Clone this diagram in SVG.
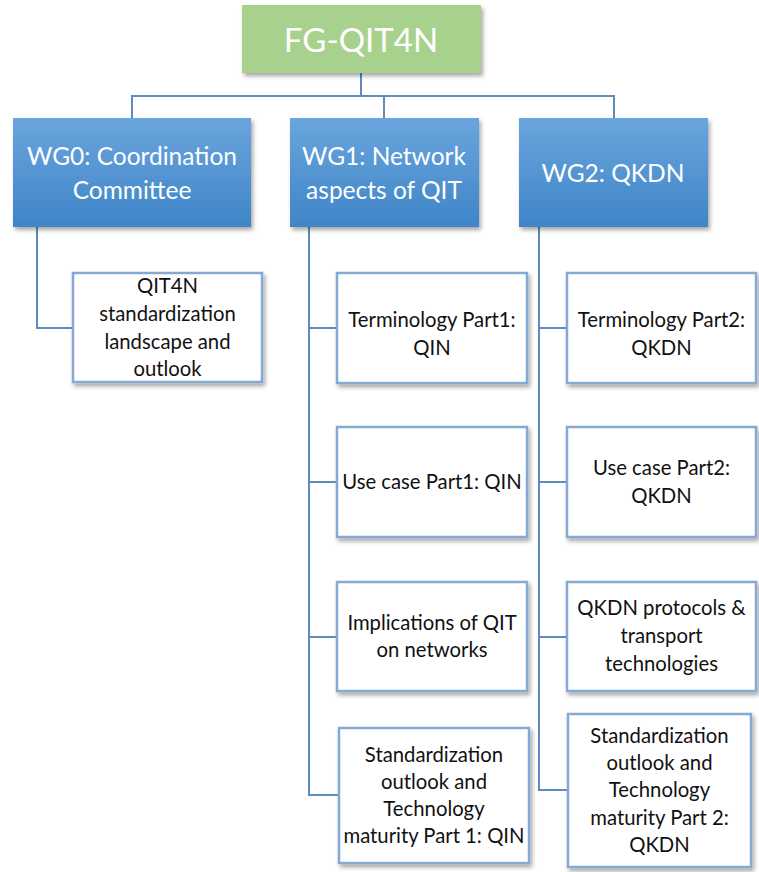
<svg xmlns="http://www.w3.org/2000/svg" width="759" height="872" viewBox="0 0 759 872">
<defs>
<linearGradient id="blue" x1="0" y1="0" x2="0" y2="1">
<stop offset="0" stop-color="#6aa5dd"/>
<stop offset="1" stop-color="#3f85c8"/>
</linearGradient>
<filter id="sh" x="-10%" y="-10%" width="125%" height="130%">
<feDropShadow dx="2" dy="3" stdDeviation="2" flood-color="#000" flood-opacity="0.35"/>
</filter>
<style>
.con{fill:none;stroke:#5f8cbd;stroke-width:2}
.wg{fill:url(#blue);filter:url(#sh)}
.top{fill:#a9d18e;filter:url(#sh)}
.sub{fill:#fff;stroke:#86a9d1;stroke-width:2.5;filter:url(#sh)}
.ht{font-family:Lato,"Open Sans",sans-serif;fill:#fff;text-anchor:middle}
.st{font-family:Lato,"Open Sans",sans-serif;fill:#111;text-anchor:middle;font-size:20.3px}
</style>
</defs>
<rect width="759" height="872" fill="#fff"/>
<g id="connectors">
<path class="con" d="M361 73V96M132 118V96H614V118M384 96V118"/>
<path class="con" d="M37 227V328H73"/>
<path class="con" d="M309 227V795H339M309 328H337M309 482H337M309 637H337"/>
<path class="con" d="M539 227V790H568M539 328H567M539 482H567M539 637H567"/>
</g>
<g id="fg">
<rect class="top" x="242" y="5" width="239" height="68"/>
<text class="ht" x="361" y="52" font-size="33">FG-QIT4N</text>
</g>
<g id="wg0">
<rect class="wg" x="13" y="118" width="238" height="109"/>
<text class="ht" x="132" y="165" font-size="24.5">WG0: Coordination</text>
<text class="ht" x="132" y="199" font-size="24.5">Committee</text>
</g>
<g id="wg1">
<rect class="wg" x="290" y="118" width="189" height="109"/>
<text class="ht" x="384" y="165" font-size="24.5">WG1: Network</text>
<text class="ht" x="384" y="199" font-size="24.5">aspects of QIT</text>
</g>
<g id="wg2">
<rect class="wg" x="519" y="118" width="189" height="109"/>
<text class="ht" x="613" y="182" font-size="24.5">WG2: QKDN</text>
</g>
<g id="qit4n">
<rect class="sub" x="73" y="273" width="189" height="109"/>
<text class="st" x="167.5" y="293">QIT4N</text>
<text class="st" x="167.5" y="321">standardization</text>
<text class="st" x="167.5" y="349">landscape and</text>
<text class="st" x="167.5" y="376">outlook</text>
</g>
<g id="term1">
<rect class="sub" x="337" y="273" width="190" height="110"/>
<text class="st" x="432" y="327">Terminology Part1:</text>
<text class="st" x="432" y="355">QIN</text>
</g>
<g id="use1">
<rect class="sub" x="337" y="427" width="190" height="110"/>
<text class="st" x="432" y="489">Use case Part1: QIN</text>
</g>
<g id="impl">
<rect class="sub" x="337" y="582" width="190" height="109"/>
<text class="st" x="432" y="630">Implications of QIT</text>
<text class="st" x="432" y="657">on networks</text>
</g>
<g id="std1">
<rect class="sub" x="339" y="728" width="190" height="135"/>
<text class="st" x="434" y="762">Standardization</text>
<text class="st" x="434" y="789">outlook and</text>
<text class="st" x="434" y="816">Technology</text>
<text class="st" x="434" y="843">maturity Part 1: QIN</text>
</g>
<g id="term2">
<rect class="sub" x="567" y="273" width="189" height="110"/>
<text class="st" x="661.5" y="327">Terminology Part2:</text>
<text class="st" x="661.5" y="355">QKDN</text>
</g>
<g id="use2">
<rect class="sub" x="567" y="427" width="189" height="110"/>
<text class="st" x="661.5" y="475">Use case Part2:</text>
<text class="st" x="661.5" y="503">QKDN</text>
</g>
<g id="proto">
<rect class="sub" x="567" y="582" width="189" height="109"/>
<text class="st" x="661.5" y="615">QKDN protocols &amp;</text>
<text class="st" x="661.5" y="643">transport</text>
<text class="st" x="661.5" y="671">technologies</text>
</g>
<g id="std2">
<rect class="sub" x="568" y="714" width="183" height="153"/>
<text class="st" x="659.5" y="743">Standardization</text>
<text class="st" x="659.5" y="770">outlook and</text>
<text class="st" x="659.5" y="797">Technology</text>
<text class="st" x="659.5" y="825">maturity Part 2:</text>
<text class="st" x="659.5" y="852">QKDN</text>
</g>
</svg>
